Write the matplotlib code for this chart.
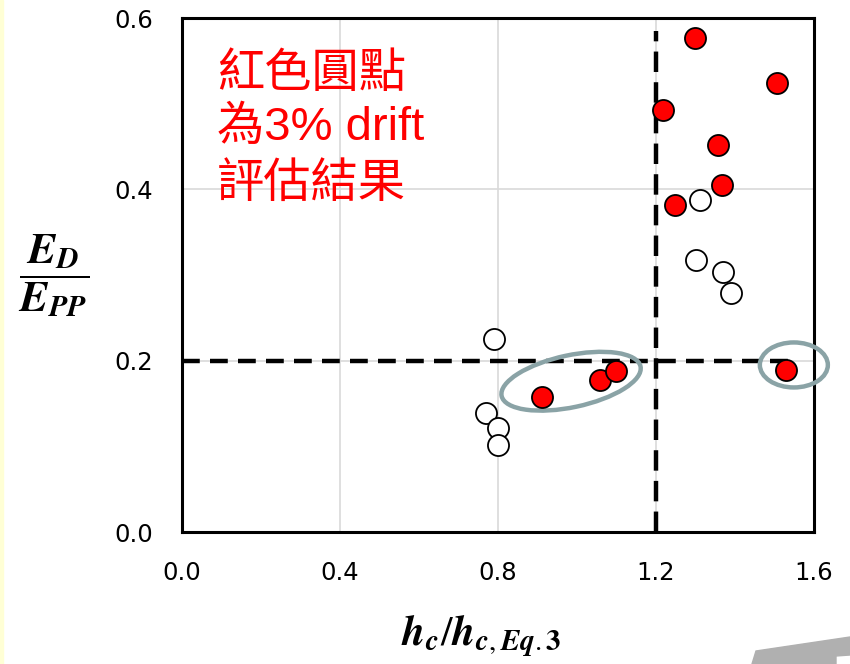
import matplotlib.pyplot as plt
import matplotlib.transforms as mtrans
from matplotlib.patches import Ellipse, Rectangle, Polygon

# 3% drift results (red) and other results (open)
red_x = [1.299, 1.506, 1.218, 1.357, 1.367, 1.248, 1.528, 0.911, 1.059, 1.099]
red_y = [0.577, 0.524, 0.493, 0.452, 0.405, 0.382, 0.189, 0.158, 0.178, 0.188]
open_x = [1.311, 1.300, 1.369, 1.389, 0.791, 0.770, 0.800, 0.799]
open_y = [0.387, 0.317, 0.303, 0.279, 0.225, 0.139, 0.121, 0.102]

# limit lines
h_limit = 1.2
e_limit = 0.2
h_line_end = 1.557
v_line_end = 0.585

# highlighted groups: centre (data), width/height (px), angle
groups = [((0.985, 0.176), 142, 52, 12), ((1.549, 0.195), 68, 45, 0)]

xticks = [0.0, 0.4, 0.8, 1.2, 1.6]
yticks = [0.0, 0.2, 0.4, 0.6]

plt.rcParams['mathtext.fontset'] = 'stix'

fig = plt.figure(figsize=(8.5, 6.64), dpi=100)
ax = fig.add_axes([182 / 850, 132 / 664, 632 / 850, 514 / 664])

ax.set_xlim(0, 1.6)
ax.set_ylim(0, 0.6)
ax.set_xticks(xticks)
ax.set_yticks(yticks)
ax.set_xticklabels([f'{t:.1f}' for t in xticks])
ax.set_yticklabels([f'{t:.1f}' for t in yticks])
ax.tick_params(length=0, pad=21, labelsize=17.5)
ax.grid(True, color='#d9d9d9', linewidth=1.2)
ax.set_axisbelow(True)
for s in ax.spines.values():
    s.set_linewidth(2.2)
    s.set_color('black')

ax.plot([0, h_line_end], [e_limit, e_limit], color='black', lw=3.2,
        dashes=(4.0, 2.3), zorder=2)
ax.plot([h_limit, h_limit], [0, v_line_end], color='black', lw=3.2,
        dashes=(4.6, 2.3), zorder=2)

for (cx, cy), w, h, ang in groups:
    tr = fig.dpi_scale_trans + mtrans.ScaledTranslation(cx, cy, ax.transData)
    e = Ellipse((0, 0), w / 100, h / 100, angle=ang, transform=tr,
                fill=False, edgecolor='#8aa3a6', lw=3.2, clip_on=False, zorder=3)
    ax.add_patch(e)

ax.scatter(open_x, open_y, s=230, facecolor='white', edgecolor='black',
           linewidth=1.3, zorder=4)
ax.scatter(red_x, red_y, s=230, facecolor='#ff0000', edgecolor='black',
           linewidth=1.3, zorder=5)

fam = ['Liberation Sans', 'Noto Sans CJK TC']
for txt, yy in [('紅色圓點', 0.89), ('為3% drift', 0.787), ('評估結果', 0.676)]:
    ax.text(0.0554, yy, txt, transform=ax.transAxes, color='#ff0000',
            fontsize=34, family=fam, va='center', ha='left')

fig.text(54 / 850, 1 - 276 / 664,
         r'$\dfrac{\mathbfit{E}_{\mathbfit{D}}}{\mathbfit{E}_{\mathbfit{PP}}}$',
         fontsize=31, ha='center', va='center')
fig.text(481 / 850, 1 - 636 / 664,
         r'$\mathbfit{h}_{\mathbfit{c}}/\mathbfit{h}_{\mathbfit{c},\mathbfit{Eq}.\mathbf{3}}$',
         fontsize=30, ha='center', va='center')

# slide decorations
fig.patches.append(Rectangle((0, 0), 3 / 850, 1, transform=fig.transFigure,
                             color='#ffffd5', zorder=0))
poly = [(752, 664), (756, 651), (850, 637), (850, 655), (836, 656), (836, 664)]
fig.patches.append(Polygon([(x / 850, 1 - y / 664) for x, y in poly],
                           transform=fig.transFigure, color='#b0b0b0', zorder=0))

fig.savefig('out.png', dpi=100)
